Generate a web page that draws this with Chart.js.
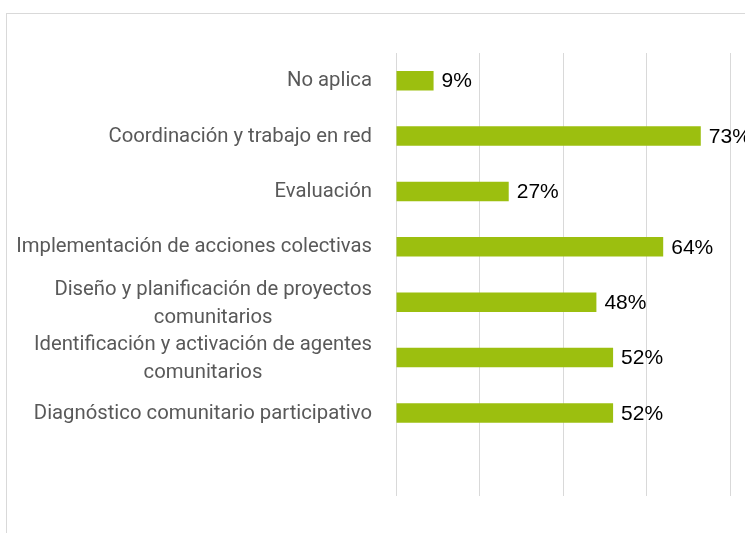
<!DOCTYPE html>
<html><head><meta charset="utf-8">
<script src="https://cdn.jsdelivr.net/npm/chart.js@4/dist/chart.umd.min.js"></script>
<style>
html,body{margin:0;padding:0;width:745px;height:533px;overflow:hidden;background:#fff;}
#frame{position:absolute;left:6px;top:13px;width:900px;height:700px;border:1px solid #d9d9d9;box-sizing:border-box;}
#wrap{position:absolute;left:0;top:0;width:745px;height:533px;}
</style></head><body>
<div id="frame"></div>
<div id="wrap"><canvas id="c" width="745" height="533"></canvas></div>
<script>
const categories = [
  ["No aplica"],
  ["Coordinación y trabajo en red"],
  ["Evaluación"],
  ["Implementación de acciones colectivas"],
  ["Diseño y planificación de proyectos", "comunitarios"],
  ["Identificación y activación de agentes", "comunitarios"],
  ["Diagnóstico comunitario participativo"],
  [""]
];
const values = [9, 73, 27, 64, 48, 52, 52, null];
const valueLabels = ["9%", "73%", "27%", "64%", "48%", "52%", "52%", ""];

const CAT_FONT = '20.3px Roboto';
const VAL_FONT = '21px "Liberation Sans", Arial, sans-serif';

const labelPlugin = {
  id: 'labelPlugin',
  afterDatasetsDraw(chart) {
    const ctx = chart.ctx;
    const yScale = chart.scales.y;
    ctx.save();
    // category labels
    ctx.font = CAT_FONT;
    ctx.fillStyle = '#595959';
    ctx.textBaseline = 'middle';
    ctx.textAlign = 'center';
    const right = 372;
    const lineH = 28;
    categories.forEach((lines, i) => {
      const yc = yScale.getPixelForValue(i) + 0.5;
      const w = Math.max(...lines.map(l => ctx.measureText(l).width));
      const cx = right - w / 2;
      const y0 = yc - (lines.length - 1) * lineH / 2 + (lines.length > 1 ? 1 : 0);
      lines.forEach((l, k) => ctx.fillText(l, cx, y0 + k * lineH));
    });
    // value labels
    ctx.font = VAL_FONT;
    ctx.fillStyle = '#000000';
    ctx.textAlign = 'left';
    const meta = chart.getDatasetMeta(0);
    meta.data.forEach((el, i) => {
      if (values[i] == null) return;
      ctx.fillText(valueLabels[i], el.x + 8, el.y + 1);
    });
    ctx.restore();
  }
};

new Chart(document.getElementById('c'), {
  type: 'bar',
  data: {
    labels: categories,
    datasets: [{
      data: values,
      backgroundColor: '#9cbf0f',
      borderWidth: 0,
      categoryPercentage: 1,
      barPercentage: 0.35
    }]
  },
  options: {
    responsive: false,
    animation: false,
    indexAxis: 'y',
    layout: { padding: { top: 53, bottom: 37, right: 15, left: 0 } },
    plugins: { legend: { display: false }, tooltip: { enabled: false } },
    scales: {
      x: {
        min: 0, max: 80,
        ticks: { display: false, stepSize: 20 },
        grid: { color: '#d9d9d9', lineWidth: 1, drawTicks: false },
        border: { display: false },
        afterFit(s) { s.height = 0; }
      },
      y: {
        ticks: { display: false },
        grid: { display: false },
        border: { display: false },
        afterFit(s) { s.width = 396; }
      }
    }
  },
  plugins: [labelPlugin]
});
</script>
</body></html>
